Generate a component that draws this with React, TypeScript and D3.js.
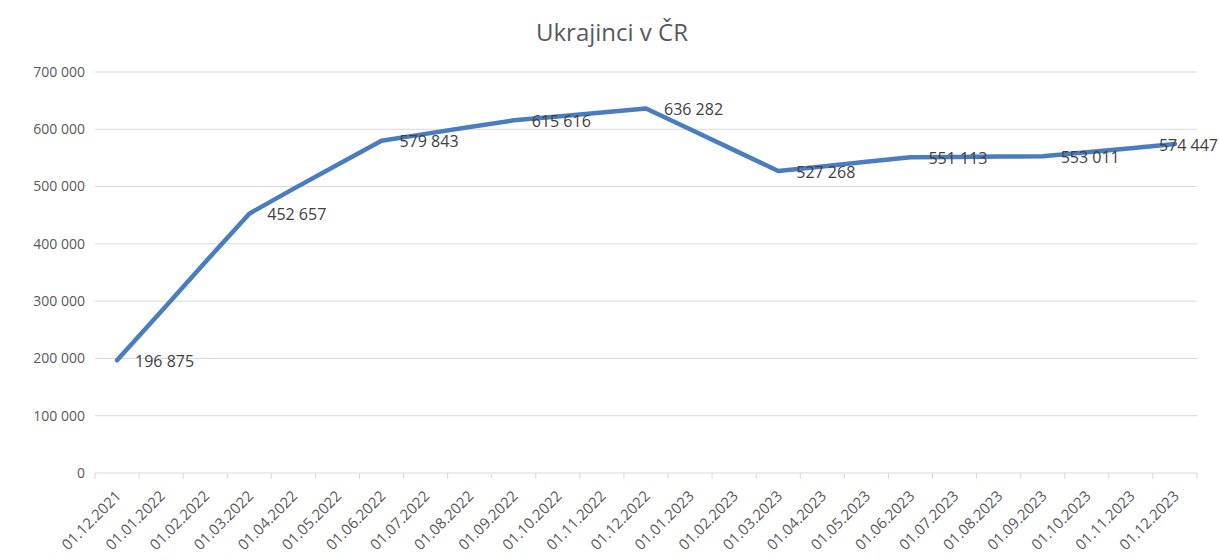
import React, {useEffect, useRef} from 'react'
import * as d3 from 'd3'

const months = [
  '01.12.2021', '01.01.2022', '01.02.2022', '01.03.2022', '01.04.2022', '01.05.2022',
  '01.06.2022', '01.07.2022', '01.08.2022', '01.09.2022', '01.10.2022', '01.11.2022',
  '01.12.2022', '01.01.2023', '01.02.2023', '01.03.2023', '01.04.2023', '01.05.2023',
  '01.06.2023', '01.07.2023', '01.08.2023', '01.09.2023', '01.10.2023', '01.11.2023',
  '01.12.2023',
]
// monthly counts, only every third month is labelled in the picture
const ukrainians = [
  196875, 282000, 368000, 452657, 496000, 538000,
  579843, 592000, 604000, 615616, 622500, 629400,
  636282, 600000, 563600, 527268, 535200, 543200,
  551113, 551700, 552300, 553011, 560000, 567000,
  574447,
]
const labelEvery = 3
const yTicks = [0, 100000, 200000, 300000, 400000, 500000, 600000, 700000]
const title = 'Ukrajinci v ČR'

const W = 1219
const H = 560
const FONT = '"Open Sans", "Liberation Sans", sans-serif'

export default function App() {
  const ref = useRef<SVGSVGElement>(null)

  useEffect(() => {
    const svg = d3.select(ref.current)
    svg.selectAll('*').remove()

    const x = d3.scaleBand<string>().domain(months).range([95, 1197])
    const y = d3.scaleLinear().domain([0, 700000]).range([473, 72])
    const cx = (m: string) => (x(m) as number) + x.bandwidth() / 2
    const fmt = d3.formatLocale({decimal: ',', thousands: ' ', grouping: [3], currency: ['', '']}).format(',d')

    svg
      .append('text')
      .attr('x', 612)
      .attr('y', 41)
      .attr('text-anchor', 'middle')
      .attr('font-family', FONT)
      .attr('font-size', 24)
      .attr('fill', '#595959')
      .text(title)

    // gridlines
    svg
      .append('g')
      .selectAll('line')
      .data(yTicks)
      .enter()
      .append('line')
      .attr('x1', 95)
      .attr('x2', 1197)
      .attr('y1', (d) => y(d))
      .attr('y2', (d) => y(d))
      .attr('stroke', '#d9d9d9')
      .attr('stroke-width', 1)

    svg
      .append('g')
      .selectAll('text')
      .data(yTicks)
      .enter()
      .append('text')
      .attr('x', 85)
      .attr('y', (d) => y(d))
      .attr('dy', '0.35em')
      .attr('text-anchor', 'end')
      .attr('font-family', FONT)
      .attr('font-size', 14)
      .attr('fill', '#595959')
      .text((d) => fmt(d))

    // x axis ticks between months
    const edges = months.map((m) => x(m) as number).concat([x.range()[1]])
    svg
      .append('g')
      .selectAll('line')
      .data(edges)
      .enter()
      .append('line')
      .attr('x1', (d) => d)
      .attr('x2', (d) => d)
      .attr('y1', 473)
      .attr('y2', 479)
      .attr('stroke', '#d9d9d9')

    svg
      .append('g')
      .selectAll('text')
      .data(months)
      .enter()
      .append('text')
      .attr('text-anchor', 'end')
      .attr('transform', (d) => `translate(${cx(d) + 5}, 497) rotate(-45)`)
      .attr('font-family', FONT)
      .attr('font-size', 15)
      .attr('fill', '#595959')
      .text((d) => d)

    const line = d3
      .line<number>()
      .x((d, i) => cx(months[i]))
      .y((d) => y(d))

    svg
      .append('path')
      .datum(ukrainians)
      .attr('d', line)
      .attr('fill', 'none')
      .attr('stroke', '#4a7dbf')
      .attr('stroke-width', 4.5)
      .attr('stroke-linejoin', 'round')
      .attr('stroke-linecap', 'round')

    const labelled = ukrainians
      .map((v, i) => ({v, i}))
      .filter((d) => d.i % labelEvery === 0)

    const labels = svg
      .append('g')
      .selectAll('text')
      .data(labelled)
      .enter()
      .append('text')
      .attr('x', (d) => cx(months[d.i]) + 18)
      .attr('y', (d) => y(d.v) + 1)
      .attr('dy', '0.35em')
      .attr('font-family', FONT)
      .attr('font-size', 16)
      .attr('fill', '#404040')
      .text((d) => fmt(d.v))

    // keep the last label inside the chart, like Excel does
    labels.each(function () {
      const el = this as SVGTextElement
      const w = el.getComputedTextLength()
      const lx = +el.getAttribute('x')!
      if (lx + w > W - 1) el.setAttribute('x', String(W - 1 - w))
    })
  }, [])

  return (
    <svg
      ref={ref}
      width={W}
      height={H}
      style={{position: 'absolute', left: 0, top: 0, background: '#fff'}}
    />
  )
}
